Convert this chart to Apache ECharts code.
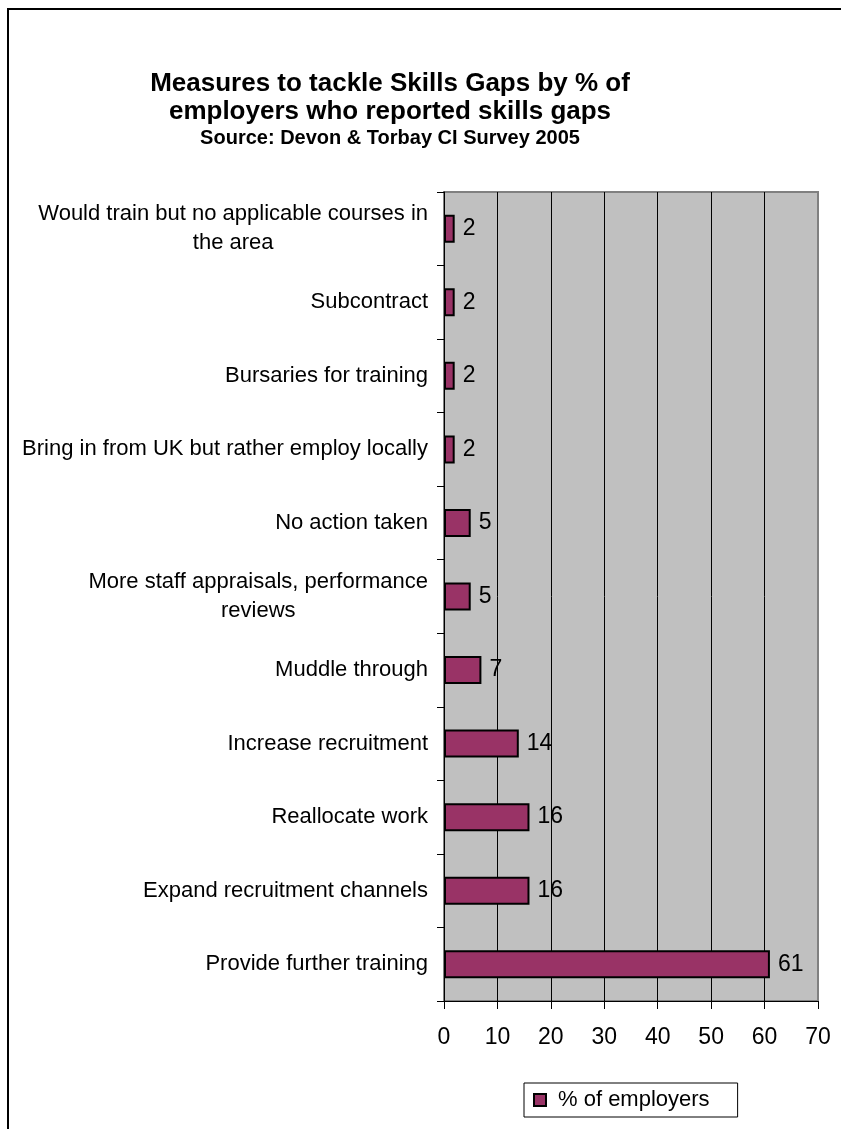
<!DOCTYPE html>
<html>
<head>
<meta charset="utf-8">
<script src="https://cdn.jsdelivr.net/npm/echarts@6/dist/echarts.min.js"></script>
<style>
  html, body { margin: 0; padding: 0; background: #fff; }
  #chart { position: absolute; left: 0; top: 0; width: 841px; height: 1129px; }
  #frame { position: absolute; left: 7px; top: 8px; width: 900px; height: 1200px;
           border-left: 2px solid #000; border-top: 2px solid #000; pointer-events: none; }
</style>
</head>
<body>
<div id="chart"></div>
<div id="frame"></div>
<script>
const titleLine1 = 'Measures to tackle Skills Gaps by % of';
const titleLine2 = 'employers who reported skills gaps';
const titleLine3 = 'Source: Devon & Torbay CI Survey 2005';

const categories = [
  'Would train but no applicable courses in\nthe area',
  'Subcontract',
  'Bursaries for training',
  'Bring in from UK but rather employ locally',
  'No action taken',
  'More staff appraisals, performance\nreviews',
  'Muddle through',
  'Increase recruitment',
  'Reallocate work',
  'Expand recruitment channels',
  'Provide further training'
];
const values = [2, 2, 2, 2, 5, 5, 7, 14, 16, 16, 61];
const seriesName = '% of employers';
const axisMin = 0;
const axisMax = 70;
const axisStep = 10;

const FONT = '"Liberation Sans", Arial, sans-serif';
const chart = echarts.init(document.getElementById('chart'), null, { renderer: 'canvas' });

chart.setOption({
  backgroundColor: '#ffffff',
  animation: false,
  title: {
    left: 390,
    top: 70,
    padding: 0,
    textAlign: 'center',
    text: '{a|' + titleLine1 + '}\n{a|' + titleLine2 + '}\n{b|' + titleLine3 + '}',
    textStyle: {
      rich: {
        a: { fontFamily: FONT, fontWeight: 'bold', fontSize: 26, lineHeight: 28, color: '#000', align: 'center' },
        b: { fontFamily: FONT, fontWeight: 'bold', fontSize: 20, lineHeight: 25, color: '#000', align: 'center' }
      }
    }
  },
  legend: {
    left: 524,
    top: 1083,
    orient: 'horizontal',
    padding: [6, 28, 6, 9],
    borderColor: '#000',
    borderWidth: 1,
    itemWidth: 12,
    itemHeight: 12,
    icon: 'rect',
    textStyle: { fontFamily: FONT, fontSize: 22, color: '#000', padding: [0, 0, 0, 7] },
    data: [seriesName]
  },
  grid: {
    left: 444,
    top: 192,
    right: 23,
    bottom: 128,
    show: true,
    backgroundColor: '#c0c0c0',
    borderColor: '#808080',
    borderWidth: 2,
    containLabel: false
  },
  xAxis: {
    type: 'value',
    min: axisMin,
    max: axisMax,
    interval: axisStep,
    axisLine: { show: true, lineStyle: { color: '#000', width: 1 } },
    axisTick: { show: true, length: 8, lineStyle: { color: '#000', width: 1 } },
    axisLabel: { fontFamily: FONT, fontSize: 23, color: '#000', margin: 25 },
    splitLine: { show: true, showMinLine: false, showMaxLine: false, lineStyle: { color: '#000', width: 1 } }
  },
  yAxis: {
    type: 'category',
    inverse: true,
    data: categories,
    boundaryGap: true,
    axisLine: { show: true, lineStyle: { color: '#000', width: 1 } },
    axisTick: { show: true, length: 7, alignWithLabel: false, lineStyle: { color: '#000', width: 1 } },
    splitLine: { show: false },
    axisLabel: {
      interval: 0,
      margin: 16,
      align: 'right',
      formatter: function (v) {
        return v.split('\n').map(function (l) { return '{c|' + l + '}'; }).join('\n');
      },
      rich: {
        c: { fontFamily: FONT, fontSize: 22, lineHeight: 29, color: '#000', align: 'center' }
      }
    }
  },
  series: [{
    name: seriesName,
    type: 'bar',
    data: values,
    barWidth: 28,
    itemStyle: { color: '#993366', borderColor: '#000', borderWidth: 2 },
    label: {
      show: true,
      position: 'right',
      distance: 8,
      fontFamily: FONT,
      fontSize: 23,
      color: '#000'
    }
  }]
});
</script>
</body>
</html>
